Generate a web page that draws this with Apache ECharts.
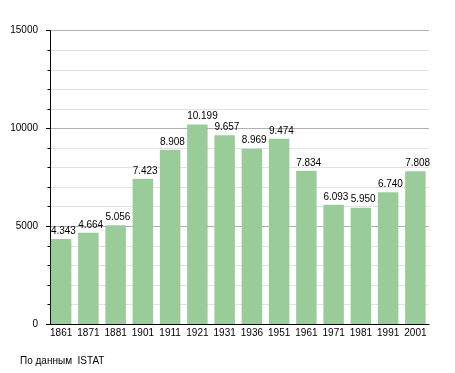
<!DOCTYPE html>
<html>
<head>
<meta charset="utf-8">
<script src="https://cdn.jsdelivr.net/npm/echarts@6/dist/echarts.min.js"></script>
<style>html,body{margin:0;padding:0;background:#fff;}#c{width:455px;height:373px;}</style>
</head>
<body>
<div id="c"></div>
<script>
var years = ['1861','1871','1881','1901','1911','1921','1931','1936','1951','1961','1971','1981','1991','2001'];
var population = [4343, 4664, 5056, 7423, 8908, 10199, 9657, 8969, 9474, 7834, 6093, 5950, 6740, 7808];
var sourceNote = 'По данным  ISTAT';

function fmt(v){ return String(v).replace(/\B(?=(\d{3})+(?!\d))/g, '.'); }

var chart = echarts.init(document.getElementById('c'), null, {renderer:'canvas'});
chart.setOption({
  animation: false,
  backgroundColor: '#ffffff',
  textStyle: {fontFamily: 'Liberation Sans, Arial, sans-serif'},
  grid: {left: 47.5, right: 26, top: 30.7, bottom: 49, containLabel: false},
  title: {
    text: sourceNote, left: 15, top: 351,
    textStyle: {fontSize: 10, fontWeight: 'normal', color: '#000', fontFamily: 'Liberation Sans, Arial, sans-serif'}
  },
  xAxis: {
    type: 'category', data: years,
    axisLine: {lineStyle: {color: '#000', width: 1}},
    axisTick: {show: false},
    axisLabel: {interval: 0, color: '#000', fontSize: 10, margin: 4}
  },
  yAxis: {
    type: 'value', min: 0, max: 15000, interval: 5000,
    offset: -2.5,
    axisLine: {show: true, lineStyle: {color: '#000', width: 1}},
    axisTick: {show: true, length: 4, lineStyle: {color: '#000'}},
    minorTick: {show: true, splitNumber: 5, length: 2.5, lineStyle: {color: '#000'}},
    splitLine: {show: true, lineStyle: {color: '#b0b0b0', width: 1}},
    minorSplitLine: {show: true, lineStyle: {color: '#e2e2e2', width: 1}},
    axisLabel: {color: '#000', fontSize: 10, margin: 12, formatter: function(v){ return String(v); }}
  },
  series: [{
    type: 'bar', data: population, barWidth: 20.5,
    itemStyle: {color: '#99cc99'},
    label: {
      show: true, position: [0, -3], align: 'left', verticalAlign: 'bottom',
      color: '#000', fontSize: 10,
      formatter: function(p){ return fmt(p.value); }
    }
  }]
});
</script>
</body>
</html>
